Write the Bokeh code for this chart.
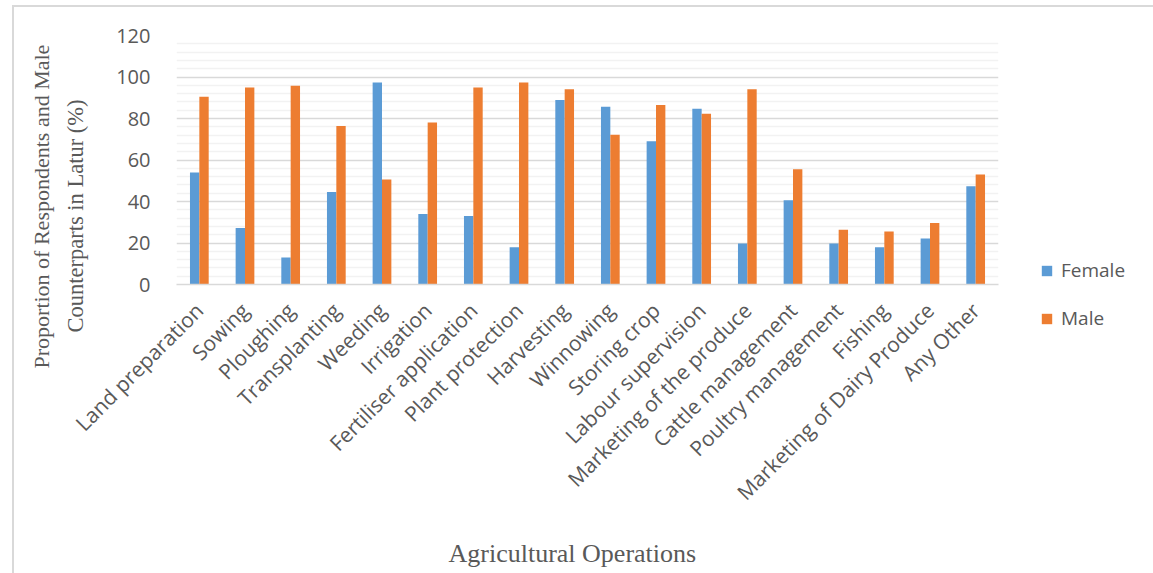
import math
from bokeh.plotting import figure
from bokeh.models import FactorRange, FixedTicker, Legend, LegendItem, Title, ColumnDataSource
from bokeh.transform import dodge
from bokeh.embed import file_html
from bokeh.resources import INLINE

categories = ["Land preparation", "Sowing", "Ploughing", "Transplanting", "Weeding",
              "Irrigation", "Fertiliser application", "Plant protection", "Harvesting",
              "Winnowing", "Storing crop", "Labour supervision", "Marketing of the produce",
              "Cattle management", "Poultry management", "Fishing",
              "Marketing of Dairy Produce", "Any Other"]
female = [54, 27.2, 13, 44.6, 97.3, 34, 33, 18, 88.9, 85.7, 69, 84.7, 19.7, 40.6, 19.7, 18, 22.2, 47.4]
male = [90.5, 94.9, 95.8, 76.4, 50.6, 78.1, 94.9, 97.3, 94.1, 72.2, 86.5, 82.3, 94.1, 55.6, 26.4, 25.5, 29.6, 53]
y_ticks = [0, 20, 40, 60, 80, 100, 120]
series_names = ["Female", "Male"]
y_title_lines = ["Proportion of Respondents and Male", "Counterparts  in Latur (%)"]
x_title = "Agricultural Operations"

src = ColumnDataSource(dict(cat=categories, female=female, male=male))

p = figure(x_range=FactorRange(*categories), y_range=(0, 120),
           frame_width=822, frame_height=249, output_backend="svg", toolbar_location=None,
           min_border_left=162, min_border_right=155, min_border_top=28, min_border_bottom=270)
p.styles = {"margin-left": "12px", "margin-top": "5px",
            "border-left": "2px solid #D9D9D9", "border-top": "2px solid #D9D9D9"}
p.outline_line_color = None

bw = 0.205
r1 = p.vbar(x=dodge("cat", -bw / 2, range=p.x_range), top="female", width=bw, source=src,
            fill_color="#5B9BD5", line_color=None)
r2 = p.vbar(x=dodge("cat", bw / 2, range=p.x_range), top="male", width=bw, source=src,
            fill_color="#ED7D31", line_color=None)

minor = [v for v in range(0, 121, 4) if v % 20 != 0]
p.yaxis.ticker = FixedTicker(ticks=y_ticks, minor_ticks=minor)
p.ygrid.grid_line_color = "#D9D9D9"
p.ygrid.grid_line_width = 1.5
p.ygrid.minor_grid_line_color = "#F2F2F2"
p.ygrid.minor_grid_line_width = 1.5
p.xgrid.visible = False

p.yaxis.axis_line_color = None
p.yaxis.major_tick_line_color = None
p.yaxis.minor_tick_line_color = None
p.yaxis.major_label_text_font = "Open Sans"
p.yaxis.major_label_text_font_size = "20px"
p.yaxis.major_label_text_color = "#595959"
p.yaxis.major_label_standoff = 20

p.xaxis.axis_line_color = "#D9D9D9"
p.xaxis.axis_line_width = 1.5
p.xaxis.major_tick_line_color = None
p.xaxis.minor_tick_line_color = None
p.xaxis.major_label_orientation = math.pi / 4
p.xaxis.major_label_text_font = "Open Sans"
p.xaxis.major_label_text_font_size = "21px"
p.xaxis.major_label_text_color = "#595959"
p.xaxis.major_label_standoff = 16

tstyle = dict(text_font="Liberation Serif", text_color="#595959", text_font_style="normal")
t2 = Title(text=y_title_lines[1], align="left", offset=-48, standoff=52,
           text_font_size="22.5px", **tstyle)
t1 = Title(text=y_title_lines[0], align="left", offset=-84, standoff=-38,
           text_font_size="22px", **tstyle)
p.add_layout(t2, "left")
p.add_layout(t1, "left")

tx = Title(text=x_title, align="left", offset=272, standoff=36,
           text_font_size="26px", **tstyle)
p.add_layout(tx, "below")

legend = Legend(items=[LegendItem(label=series_names[0], renderers=[r1]),
                       LegendItem(label=series_names[1], renderers=[r2])],
                location=(42, -47), padding=0, margin=0, border_line_color=None,
                background_fill_alpha=0, label_text_font="Open Sans", label_text_font_size="19px",
                label_text_color="#595959", glyph_width=13, glyph_height=13,
                spacing=22, label_standoff=8)
p.add_layout(legend, "right")

open("out.html", "w").write(file_html(p, INLINE))
